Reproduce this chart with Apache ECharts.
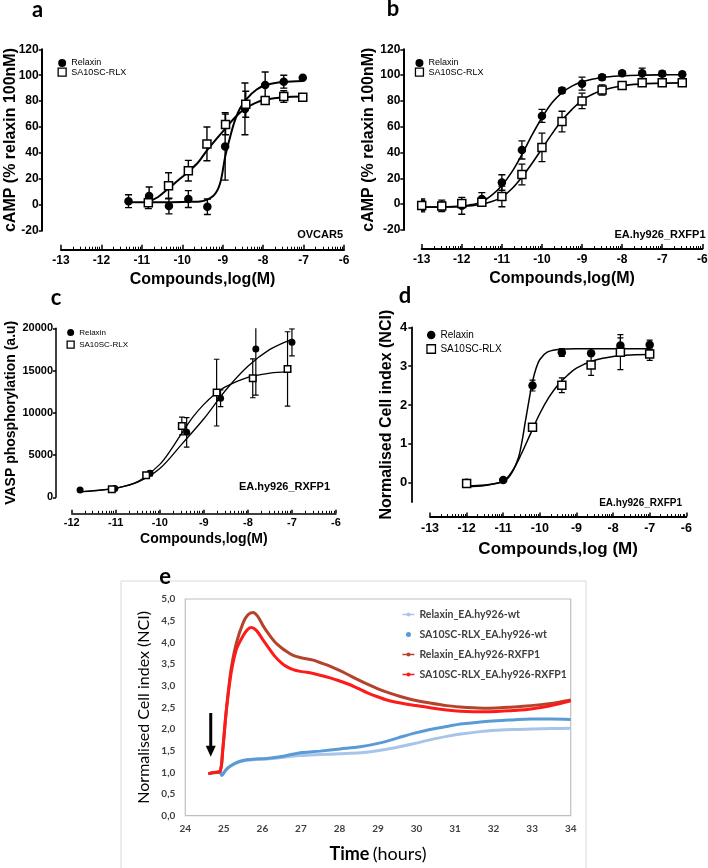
<!DOCTYPE html>
<html><head><meta charset="utf-8">
<script src="https://cdn.jsdelivr.net/npm/echarts@6/dist/echarts.min.js"></script>
<style>html,body{margin:0;padding:0;background:#fff}#c{width:708px;height:868px}</style>
</head><body><div id="c"></div>
<script>
// ---------------- DATA ----------------
// [log(M), mean, error]
const aRelaxin = [[-11.33,2.8,5],[-10.82,6.7,7],[-10.33,-1,6],[-9.85,4.4,6.5],[-9.38,-1.5,6],[-8.94,45,26],[-8.45,74,20],[-7.95,92.5,10],[-7.49,95,5],[-7.02,98,0]];
const aSA = [[-10.84,1.5,4.5],[-10.34,14.7,10],[-9.85,26.3,8],[-9.39,47,13],[-8.93,62,8],[-8.43,77.6,10],[-7.95,80.4,2],[-7.49,83.5,4.5],[-7.02,83,0]];
const aRelaxinFit = [[-11.33,2],[-10.5,2],[-10,2.2],[-9.56,2.6],[-9.23,7],[-9.07,16],[-8.94,37],[-8.82,52],[-8.7,65],[-8.57,74.5],[-8.4,82],[-8.16,89],[-7.91,92.6],[-7.5,94.7],[-7.02,95.5]];
const aSAFit = [[-10.84,2.3],[-10.6,6],[-10.34,12.6],[-10.1,19],[-9.85,25.5],[-9.6,33],[-9.39,42],[-9.15,51],[-8.93,59],[-8.68,68],[-8.43,74.5],[-8.2,78.5],[-7.95,81],[-7.49,83],[-7.02,83.5]];

const bRelaxin = [[-13,-1,5],[-12.5,-1.3,4.5],[-12,-1.3,6.5],[-11.5,4,5],[-11,16.8,6],[-10.5,42,7],[-10,68.4,5],[-9.5,88,2],[-9,93.4,5],[-8.5,98.3,2],[-8,101.4,1],[-7.5,101.4,4],[-7,101,2],[-6.5,100.6,1]];
const bSA = [[-13,-1,4],[-12.5,-1.5,3],[-12,0.5,3],[-11.5,1.5,3],[-11,6,8],[-10.5,23,8],[-10,44,11],[-9.5,64,8],[-9,80,6],[-8.5,88.5,4],[-8,92,2],[-7.5,94,2],[-7,94,2],[-6.5,94,1]];
const bRelaxinFit = [[-13,-2.3],[-12.5,-2.2],[-12,-1.5],[-11.75,-0.3],[-11.5,1.8],[-11.25,7],[-11,14.5],[-10.75,25],[-10.5,38.5],[-10.25,53.5],[-10,67],[-9.75,78.5],[-9.5,86.5],[-9.25,91.5],[-9,94.8],[-8.5,98.2],[-8,99.5],[-7.5,100],[-7,100.2],[-6.5,100.3]];
const bSAFit = [[-13,-2.3],[-12.5,-2.2],[-12,-1.8],[-11.5,0],[-11.25,2],[-11,5.5],[-10.75,12],[-10.5,21],[-10.25,31.5],[-10,43],[-9.75,54.5],[-9.5,65],[-9.25,73.5],[-9,80.5],[-8.75,85],[-8.5,88.3],[-8,91.8],[-7.5,93.2],[-7,93.8],[-6.5,94]];

const cRelaxin = [[-11.81,850,0],[-11.02,1050,0],[-10.22,2840,300],[-9.39,7690,1750],[-8.62,11720,1000],[-7.82,17550,5450],[-7.0,18340,1600]];
const cSA = [[-11.09,950,0],[-10.31,2600,0],[-9.5,8440,1050],[-8.71,12390,3950],[-7.89,14080,2300],[-7.1,15190,4400]];
const cRelaxinFit = [[-11.81,680],[-11.5,780],[-11,1080],[-10.5,1800],[-10,3400],[-9.5,6300],[-9,9300],[-8.5,12700],[-8,15500],[-7.5,17500],[-7,18700]];
const cSAFit = [[-11.81,650],[-11.5,760],[-11,1080],[-10.5,1850],[-10,3900],[-9.75,5600],[-9.5,7600],[-9.25,9500],[-9,11000],[-8.75,12200],[-8.5,13100],[-8,14200],[-7.5,14700],[-7.1,14850]];

const dRelaxin = [[-12,0,0],[-11,0.07,0],[-10.2,2.5,0.14],[-9.4,3.35,0.1],[-8.6,3.33,0],[-7.8,3.53,0.2],[-7.0,3.55,0.12]];
const dSA = [[-12,-0.02,0],[-10.2,1.43,0],[-9.4,2.51,0.19],[-8.6,3.03,0.27],[-7.8,3.36,0.45],[-7.0,3.31,0.16]];
const dRelaxinFit = [[-12,-0.08],[-11.5,-0.06],[-11,0.03],[-10.8,0.2],[-10.6,0.6],[-10.5,1.0],[-10.4,1.55],[-10.3,2.1],[-10.2,2.6],[-10.1,2.95],[-10,3.17],[-9.8,3.36],[-9.5,3.43],[-9,3.45],[-8,3.45],[-7,3.45]];
const dSAFit = [[-12,-0.1],[-11.5,-0.07],[-11,0.04],[-10.75,0.3],[-10.5,0.75],[-10.25,1.27],[-10,1.78],[-9.75,2.2],[-9.5,2.52],[-9.25,2.76],[-9,2.95],[-8.5,3.15],[-8,3.25],[-7.5,3.29],[-7,3.3]];
const dYTicks = [0,1,2,3,4];

// panel e: [hours, NCI]
const eRelaxinWt = [[24.6,0.97],[24.75,0.99],[24.9,1.0],[24.95,0.94],[25.02,1.01],[25.1,1.09],[25.25,1.18],[25.4,1.24],[25.59,1.28],[25.85,1.3],[26.11,1.31],[26.46,1.34],[26.75,1.37],[26.98,1.39],[27.25,1.4],[27.5,1.41],[28.02,1.43],[28.54,1.45],[29.06,1.51],[29.5,1.58],[29.92,1.66],[30.35,1.75],[30.78,1.83],[31.2,1.89],[31.65,1.94],[32.08,1.97],[32.5,1.99],[33,2.0],[33.5,2.01],[34.0,2.02]];
const eSAWt = [[24.6,0.97],[24.75,0.99],[24.9,1.0],[24.95,0.93],[25.02,1.02],[25.1,1.1],[25.25,1.19],[25.4,1.25],[25.59,1.29],[25.85,1.31],[26.11,1.32],[26.46,1.36],[26.75,1.41],[26.98,1.45],[27.25,1.47],[27.5,1.49],[28.02,1.54],[28.54,1.59],[29.06,1.68],[29.5,1.79],[29.92,1.9],[30.35,1.99],[30.78,2.06],[31.2,2.12],[31.65,2.16],[32.08,2.19],[32.5,2.21],[32.95,2.23],[33.5,2.23],[34.0,2.22]];
const eRelaxinRX = [[24.6,0.97],[24.75,1.0],[24.9,1.02],[24.97,1.5],[25.05,2.3],[25.12,2.9],[25.2,3.45],[25.33,4.0],[25.5,4.45],[25.62,4.63],[25.75,4.69],[25.88,4.6],[26.02,4.38],[26.18,4.17],[26.33,4.0],[26.5,3.87],[26.63,3.79],[26.8,3.7],[26.98,3.65],[27.15,3.62],[27.32,3.59],[27.5,3.53],[27.67,3.48],[27.93,3.38],[28.19,3.27],[28.45,3.15],[28.71,3.04],[28.97,2.94],[29.23,2.85],[29.58,2.75],[29.92,2.67],[30.35,2.6],[30.78,2.54],[31.13,2.51],[31.47,2.49],[31.82,2.48],[32.17,2.49],[32.5,2.51],[32.86,2.53],[33.38,2.58],[33.7,2.62],[34.0,2.67]];
const eSARX = [[24.6,0.97],[24.75,1.0],[24.9,1.02],[24.97,1.5],[25.05,2.3],[25.12,2.85],[25.2,3.35],[25.33,3.85],[25.5,4.15],[25.62,4.3],[25.72,4.34],[25.85,4.27],[26.02,4.05],[26.18,3.85],[26.33,3.67],[26.5,3.52],[26.63,3.44],[26.8,3.37],[26.98,3.33],[27.15,3.31],[27.32,3.28],[27.55,3.23],[27.76,3.18],[27.97,3.12],[28.19,3.05],[28.45,2.95],[28.71,2.84],[28.97,2.75],[29.23,2.67],[29.58,2.6],[29.92,2.55],[30.35,2.49],[30.78,2.44],[31.13,2.41],[31.47,2.4],[31.82,2.4],[32.17,2.41],[32.5,2.43],[32.86,2.45],[33.38,2.52],[33.7,2.58],[34.0,2.65]];
// injection arrow: [hours, NCI at tail, NCI at tip]
const eArrow = [[24.66, 2.37, 1.36]];
const eNames = ['Relaxin_EA.hy926-wt','SA10SC-RLX_EA.hy926-wt','Relaxin_EA.hy926-RXFP1','SA10SC-RLX_EA.hy926-RXFP1'];
const eColors = ['#a9c4ea','#5b9bd5','#b5432b','#ff1a1a'];

// ---------------- CHART ----------------
const F = '"Liberation Sans", Arial, Helvetica, sans-serif';
const FE = 'Lato, "Open Sans", sans-serif';

function logMinor(a, b) { const v = []; for (let d = a; d < b; d++) for (let k = 2; k <= 9; k++) v.push(d + Math.log10(k)); return v; }

const grids = [
  {left:61, top:49.3, width:283, height:181.4},
  {left:421.7, top:49.3, width:280.6, height:180.7},
  {left:71.7, top:328.3, width:264.3, height:169},
  {left:430, top:327.3, width:256.3, height:174.8},
  {left:185.3, top:599, width:385.4, height:216.7, show:true, borderColor:'#bfbfbf', borderWidth:1.2, backgroundColor:'transparent'}
].map(g => Object.assign({containLabel:false, outerBoundsMode:'none'}, g));

const xCfg = [
  {min:-13, max:-6, offset:19, lab:12, margin:5, gap:22, nsz:16, tl:5, mtl:3, lw:2, name:'Compounds,log(M)'},
  {min:-13, max:-6, offset:19, lab:12, margin:5, gap:22, nsz:16, tl:5, mtl:3, lw:2, name:'Compounds,log(M)'},
  {min:-12, max:-6, offset:16, lab:11, margin:4, gap:19, nsz:14, tl:3.5, mtl:2.5, lw:1.5, name:'Compounds,log(M)'},
  {min:-13, max:-6, offset:14.5, lab:12.5, margin:5, gap:24, nsz:17, tl:4, mtl:2.5, lw:1.8, name:'Compounds,log (M)'}
];
const yCfg = [
  {min:-20, max:120, interval:20, offset:19.3, lab:12, margin:3, gap:23, nsz:16, lw:2, name:'cAMP (% relaxin 100nM)'},
  {min:-20, max:120, interval:20, offset:18.4, lab:12, margin:3, gap:27, nsz:16, lw:2, name:'cAMP (% relaxin 100nM)'},
  {min:0, max:20000, interval:5000, offset:15.7, lab:11, margin:3, gap:38, nsz:14, lw:1.5, name:'VASP phosphorylation (a.u)'},
  {min:-0.5, max:4, custom:dYTicks, offset:18.7, lab:13, margin:4, gap:17, nsz:16, lw:1.8, name:'Normalised Cell index (NCI)'}
];

const xAxes = [], yAxes = [];
xCfg.forEach((c, g) => {
  xAxes.push({gridIndex:g, type:'value', position:'bottom', min:c.min, max:c.max, interval:1, offset:c.offset,
    axisLine:{show:true, onZero:false, lineStyle:{color:'#000', width:c.lw}},
    axisTick:{show:true, inside:true, length:c.tl, lineStyle:{color:'#000', width:1.5}},
    axisLabel:{color:'#000', fontWeight:'bold', fontSize:c.lab, fontFamily:F, margin:c.margin, formatter:v => String(v)},
    splitLine:{show:false},
    name:c.name, nameLocation:'middle', nameGap:c.gap, nameMoveOverlap:false,
    nameTextStyle:{color:'#000', fontWeight:'bold', fontSize:c.nsz, fontFamily:F}});
  xAxes.push({gridIndex:g, type:'value', position:'bottom', min:c.min, max:c.max, offset:c.offset,
    axisLine:{show:false, onZero:false}, axisLabel:{show:false}, splitLine:{show:false},
    axisTick:{show:true, inside:true, length:c.mtl, customValues:logMinor(c.min, c.max), lineStyle:{color:'#000', width:1}}});
});
yCfg.forEach((c, g) => {
  const ax = {gridIndex:g, type:'value', position:'left', min:c.min, max:c.max, offset:c.offset,
    axisLine:{show:true, onZero:false, lineStyle:{color:'#000', width:c.lw}},
    axisTick:{show:true, length:3, lineStyle:{color:'#000', width:1.5}},
    axisLabel:{color:'#000', fontWeight:'bold', fontSize:c.lab, fontFamily:F, margin:c.margin, formatter:v => String(v)},
    splitLine:{show:false},
    name:c.name, nameLocation:'middle', nameGap:c.gap, nameMoveOverlap:false,
    nameTextStyle:{color:'#000', fontWeight:'bold', fontSize:c.nsz, fontFamily:F}};
  if (c.interval) ax.interval = c.interval;
  if (c.custom) { ax.axisTick.customValues = c.custom; ax.axisLabel.customValues = c.custom; }
  yAxes.push(ax);
});
// panel e axes
xAxes.push({gridIndex:4, type:'value', min:24, max:34, interval:1,
  axisLine:{show:false, onZero:false}, axisTick:{show:false}, splitLine:{show:false},
  axisLabel:{color:'#404040', fontWeight:'bold', fontSize:10, fontFamily:FE, margin:8},
  name:'{b|Time} {n|(hours)}', nameLocation:'middle', nameGap:29, nameMoveOverlap:false,
  nameTextStyle:{rich:{b:{fontWeight:'bold', fontSize:18, fontFamily:FE, color:'#000'}, n:{fontSize:18, fontFamily:FE, color:'#000'}}}});
yAxes.push({gridIndex:4, type:'value', min:0, max:5, interval:0.5,
  axisLine:{show:false, onZero:false}, axisTick:{show:false}, splitLine:{show:false},
  axisLabel:{color:'#404040', fontWeight:'bold', fontSize:10, fontFamily:FE, margin:10, formatter:v => v.toFixed(1).replace('.', ',')},
  name:'Normalised Cell index (NCI)', nameLocation:'middle', nameGap:33, nameMoveOverlap:false,
  nameTextStyle:{color:'#000', fontSize:16, fontFamily:FE}});

function errSeries(g, pts, cap, lw) {
  return {type:'custom', xAxisIndex:g*2, yAxisIndex:g, clip:true, z:3, silent:true,
    data: pts.filter(p => p[2] > 0),
    renderItem: (params, api) => {
      const x = api.value(0), y = api.value(1), e = api.value(2);
      const hi = api.coord([x, y + e]), lo = api.coord([x, y - e]);
      const st = {stroke:'#000', lineWidth:lw};
      return {type:'group', children:[
        {type:'line', shape:{x1:hi[0], y1:hi[1], x2:lo[0], y2:lo[1]}, style:st},
        {type:'line', shape:{x1:hi[0]-cap, y1:hi[1], x2:hi[0]+cap, y2:hi[1]}, style:st},
        {type:'line', shape:{x1:lo[0]-cap, y1:lo[1], x2:lo[0]+cap, y2:lo[1]}, style:st}]};
    }};
}
function ptSeries(g, name, pts, sq, size) {
  return {type:'scatter', name, xAxisIndex:g*2, yAxisIndex:g, z:4, silent:true,
    symbol: sq ? 'rect' : 'circle', symbolSize:size,
    itemStyle: sq ? {color:'#fff', borderColor:'#000', borderWidth:1.5, opacity:1} : {color:'#000', borderWidth:0, opacity:1},
    data: pts.map(p => [p[0], p[1]])};
}
function fitSeries(g, pts, lw) {
  return {type:'line', xAxisIndex:g*2, yAxisIndex:g, z:2, silent:true, smooth:0.35, showSymbol:false, symbol:'none',
    lineStyle:{color:'#000', width:lw}, data:pts};
}

const panels = [
  {rel:aRelaxin, sa:aSA, rf:aRelaxinFit, sf:aSAFit, ms:8.5, cap:3.5, lw:2, elw:1.4},
  {rel:bRelaxin, sa:bSA, rf:bRelaxinFit, sf:bSAFit, ms:8.5, cap:3.5, lw:1.6, elw:1.3},
  {rel:cRelaxin, sa:cSA, rf:cRelaxinFit, sf:cSAFit, ms:7, cap:2.8, lw:1.3, elw:1.2},
  {rel:dRelaxin, sa:dSA, rf:dRelaxinFit, sf:dSAFit, ms:8.5, cap:3, lw:1.5, elw:1.2}
];
const series = [];
panels.forEach((p, g) => {
  series.push(fitSeries(g, p.rf, p.lw), fitSeries(g, p.sf, p.lw));
  series.push(errSeries(g, p.rel, p.cap, p.elw), errSeries(g, p.sa, p.cap, p.elw));
  series.push(ptSeries(g, 'Relaxin', p.rel, false, p.ms), ptSeries(g, 'SA10SC-RLX', p.sa, true, p.ms - 0.5));
});
[eRelaxinWt, eSAWt, eRelaxinRX, eSARX].forEach((d, i) => {
  series.push({type:'line', name:eNames[i], xAxisIndex:8, yAxisIndex:4, z:2 + i, silent:true, smooth:0.3,
    showSymbol:false, symbol:'circle', symbolSize:3, color:eColors[i],
    lineStyle:{color:eColors[i], width:3}, itemStyle:{color:eColors[i]}, data:d});
});
series.push({type:'custom', xAxisIndex:8, yAxisIndex:4, z:8, silent:true, data:eArrow,
  renderItem: (params, api) => {
    const x = api.value(0);
    const tail = api.coord([x, api.value(1)]), tip = api.coord([x, api.value(2)]);
    const hw = 5, hh = 11;
    return {type:'group', children:[
      {type:'line', shape:{x1:tail[0], y1:tail[1], x2:tip[0], y2:tip[1] - hh + 1}, style:{stroke:'#000', lineWidth:3}},
      {type:'polygon', shape:{points:[[tip[0] - hw, tip[1] - hh], [tip[0] + hw, tip[1] - hh], [tip[0], tip[1]]]}, style:{fill:'#000'}}]};
  }});

function legendAD(left, top, fs, isz, gap) {
  return {left, top, orient:'vertical', itemWidth:isz, itemHeight:isz, itemGap:gap, selectedMode:false, padding:0,
    textStyle:{fontSize:fs, fontFamily:F, color:'#000'},
    data:[{name:'Relaxin', icon:'circle', itemStyle:{color:'#000', borderWidth:0, opacity:1}},
          {name:'SA10SC-RLX', icon:'rect', itemStyle:{color:'#fff', borderColor:'#000', borderWidth:1.3, opacity:1}}]};
}
const legends = [
  legendAD(57.5, 58.5, 9, 8, 0),
  legendAD(414.8, 58.5, 9, 8, 0),
  legendAD(66.5, 328.5, 8, 7, 4),
  legendAD(426.3, 330, 10, 8.5, 4),
  {left:401.7, top:609, orient:'vertical', itemWidth:12, itemHeight:5, itemGap:9, selectedMode:false, padding:0,
   lineStyle:{width:1.5}, textStyle:{fontSize:10.5, fontWeight:'bold', fontFamily:FE, color:'#404040'},
   data:[{name:eNames[0]}, {name:eNames[1], icon:'circle'}, {name:eNames[2]}, {name:eNames[3]}]}
];

function txt(x, y, text, font, align) {
  return {type:'text', silent:true, style:{x, y, text, font, align:align || 'center', verticalAlign:'middle', fill:'#000'}};
}
const graphics = [
  {type:'rect', silent:true, shape:{x:121, y:581, width:465, height:300}, style:{fill:'none', stroke:'#d9d9d9', lineWidth:1}},
  txt(37.5, 10, 'a', 'bold 22px ' + FE),
  txt(393, 9, 'b', 'bold 22px ' + FE),
  txt(56, 298, 'c', 'bold 22px ' + FE),
  txt(405, 296, 'd', 'bold 22px ' + FE),
  txt(165, 577, 'e', 'bold 22px ' + FE),
  txt(343, 235, 'OVCAR5', 'bold 11px ' + F, 'right'),
  txt(705.5, 235, 'EA.hy926_RXFP1', 'bold 11px ' + F, 'right'),
  txt(330, 486.7, 'EA.hy926_RXFP1', 'bold 11px ' + F, 'right'),
  txt(682, 503.3, 'EA.hy926_RXFP1', 'bold 10px ' + F, 'right')
];

const chart = echarts.init(document.getElementById('c'), null, {renderer:'canvas'});
chart.setOption({
  animation:false, backgroundColor:'#fff',
  grid:grids, xAxis:xAxes, yAxis:yAxes, legend:legends, series, graphic:graphics
});
</script></body></html>
